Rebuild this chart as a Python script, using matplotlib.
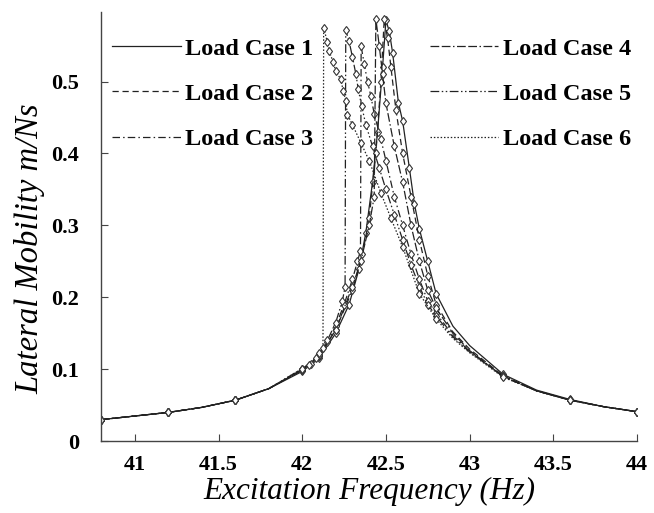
import matplotlib
matplotlib.use("Agg")
import matplotlib.pyplot as plt

# ---- data ----
far_left_f = [40.8, 41.0, 41.2, 41.4, 41.6, 41.8]
far_left_v = [0.030, 0.035, 0.040, 0.047, 0.057, 0.073]
far_right_f = [42.9, 43.0, 43.2, 43.4, 43.6, 43.8, 44.0]

case1_f = [42.0, 42.1, 42.2, 42.28, 42.34, 42.38, 42.42, 42.45, 42.48, 42.50,
           42.52, 42.54, 42.575, 42.60, 42.64, 42.67, 42.70, 42.75, 42.80]
case1_v = [0.097, 0.115, 0.150, 0.190, 0.240, 0.290, 0.360, 0.430, 0.520, 0.585,
           0.570, 0.540, 0.470, 0.445, 0.380, 0.330, 0.295, 0.250, 0.205]
case1_r = [0.160, 0.133, 0.093, 0.071, 0.058, 0.048, 0.041]

case2_f = [42.0, 42.1, 42.2, 42.3, 42.36, 42.40, 42.44, 42.47, 42.49,
           42.51, 42.53, 42.56, 42.60, 42.65, 42.70, 42.75, 42.80]
case2_v = [0.099, 0.118, 0.155, 0.210, 0.260, 0.310, 0.400, 0.500, 0.587,
           0.560, 0.520, 0.460, 0.400, 0.340, 0.280, 0.230, 0.190]
case2_r = [0.152, 0.128, 0.091, 0.070, 0.057, 0.048, 0.041]

case3_f = [42.0, 42.1, 42.15, 42.2, 42.25, 42.3, 42.33, 42.348, 42.352,
           42.37, 42.39, 42.41, 42.43, 42.47, 42.50, 42.55, 42.60, 42.65, 42.70, 42.75, 42.80]
case3_v = [0.100, 0.120, 0.138, 0.160, 0.190, 0.225, 0.250, 0.265, 0.549,
           0.525, 0.500, 0.480, 0.455, 0.420, 0.390, 0.340, 0.300, 0.260, 0.225, 0.195, 0.178]
case3_r = [0.147, 0.125, 0.090, 0.070, 0.057, 0.048, 0.041]

case4_f = [42.0, 42.1, 42.2, 42.3, 42.35, 42.40, 42.43, 42.44,
           42.46, 42.48, 42.50, 42.55, 42.60, 42.65, 42.70, 42.75, 42.80]
case4_v = [0.099, 0.118, 0.155, 0.215, 0.250, 0.300, 0.340, 0.587,
           0.550, 0.510, 0.470, 0.410, 0.360, 0.300, 0.250, 0.210, 0.185]
case4_r = [0.150, 0.126, 0.090, 0.070, 0.057, 0.048, 0.041]

case5_f = [42.0, 42.05, 42.1, 42.15, 42.2, 42.24, 42.256, 42.26,
           42.28, 42.30, 42.32, 42.335, 42.355, 42.38, 42.42, 42.46, 42.50,
           42.55, 42.60, 42.65, 42.70, 42.75, 42.80]
case5_v = [0.101, 0.108, 0.120, 0.140, 0.165, 0.195, 0.215, 0.571,
           0.556, 0.534, 0.511, 0.489, 0.466, 0.440, 0.410, 0.380, 0.350,
           0.315, 0.280, 0.245, 0.215, 0.190, 0.174]
case5_r = [0.145, 0.124, 0.090, 0.070, 0.057, 0.048, 0.041]

case6_f = [42.0, 42.04, 42.08, 42.10, 42.124, 42.128,
           42.15, 42.16, 42.185, 42.20, 42.23, 42.245, 42.26, 42.27, 42.30,
           42.35, 42.40, 42.47, 42.53, 42.60, 42.70, 42.80]
case6_v = [0.101, 0.106, 0.115, 0.122, 0.130, 0.575,
           0.555, 0.543, 0.527, 0.515, 0.503, 0.487, 0.473, 0.454, 0.440,
           0.415, 0.390, 0.345, 0.310, 0.270, 0.205, 0.170]
case6_r = [0.143, 0.123, 0.089, 0.070, 0.057, 0.048, 0.041]

labels = ["Load Case 1", "Load Case 2", "Load Case 3",
          "Load Case 4", "Load Case 5", "Load Case 6"]
no_marker_f = [41.0, 41.4, 41.8, 42.9, 43.0, 43.4, 43.8]

x_ticks = [41, 41.5, 42, 42.5, 43, 43.5, 44]
y_ticks = [0, 0.1, 0.2, 0.3, 0.4, 0.5]

# ---- styles ----
styles = [
    "-",
    (0, (5, 3)),
    (0, (6, 2.5, 1.2, 2.5)),
    (0, (7, 2, 7, 2, 1.2, 2)),
    (0, (7, 2, 1.2, 2, 1.2, 2)),
    (0, (1.2, 1.5)),
]

fig = plt.figure(figsize=(6.54, 5.13), dpi=100)
ax = fig.add_axes([0.155, 0.140, 0.819, 0.837])

cases = [(case1_f, case1_v, case1_r), (case2_f, case2_v, case2_r),
         (case3_f, case3_v, case3_r), (case4_f, case4_v, case4_r),
         (case5_f, case5_v, case5_r), (case6_f, case6_v, case6_r)]

handles = []
for (nf, nv, rv), ls, lab in zip(cases, styles, labels):
    f = far_left_f + nf + far_right_f
    v = far_left_v + nv + rv
    mk = [i for i, fv in enumerate(f) if fv not in no_marker_f]
    ax.plot(f, v, linestyle=ls, color="#222222", linewidth=0.9,
            marker="d", markersize=4.5, markerfacecolor="white",
            markeredgecolor="#333333", markeredgewidth=0.8, markevery=mk)
    h, = ax.plot([], [], linestyle=ls, color="#222222", linewidth=0.9)
    handles.append(h)

ax.set_xlim(40.8, 44.0)
ax.set_ylim(0, 0.597)
ax.set_xticks(x_ticks)
ax.set_xticklabels([("%g" % t) for t in x_ticks])
ax.set_yticks(y_ticks)
ax.set_yticklabels([("%g" % t) for t in y_ticks])
for s in ["top", "right"]:
    ax.spines[s].set_visible(False)
for s in ["left", "bottom"]:
    ax.spines[s].set_color("#444444")
    ax.spines[s].set_linewidth(1.0)
ax.tick_params(direction="in", length=5, color="#444444")
ax.tick_params(axis="x", pad=10)
ax.tick_params(axis="y", pad=16)
for lbl in ax.get_xticklabels() + ax.get_yticklabels():
    lbl.set_fontfamily("Liberation Serif")
    lbl.set_fontweight("bold")
    lbl.set_fontsize(16)

ax.set_xlabel("Excitation Frequency (Hz)", fontfamily="Liberation Serif",
              fontstyle="italic", fontsize=22.5, labelpad=1)
ax.set_ylabel("Lateral Mobility m/Ns", fontfamily="Liberation Serif",
              fontstyle="italic", fontsize=23.5)
ax.yaxis.set_label_coords(-0.105, 0.448)

leg = ax.legend(handles, labels, ncol=2, frameon=False, loc="upper left",
                bbox_to_anchor=(-0.011, 0.979),
                prop={"family": "Liberation Serif", "weight": "bold", "size": 17.5},
                handlelength=2.8, handletextpad=0.2, columnspacing=4.8,
                labelspacing=0.95, borderpad=0.2)

fig.savefig("out.png", dpi=100)
